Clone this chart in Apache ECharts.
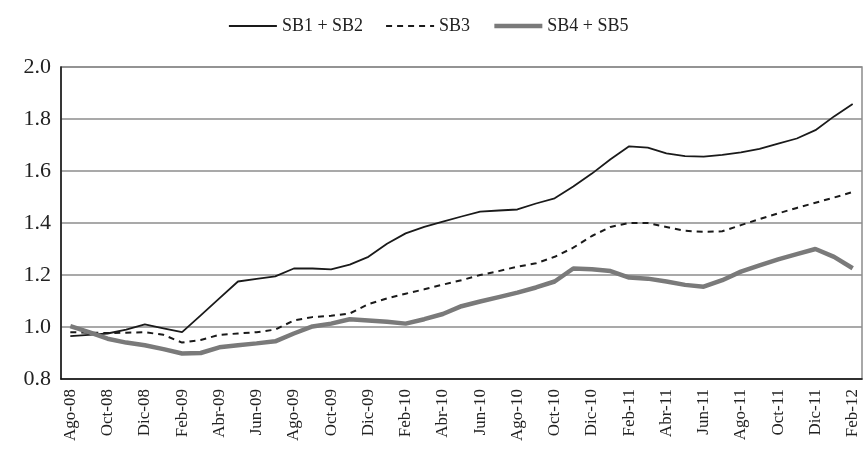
<!DOCTYPE html>
<html>
<head>
<meta charset="utf-8">
<style>
  html, body { margin: 0; padding: 0; background: #fff; }
  .chart { width: 864px; height: 455px; }
</style>
<script src="https://cdn.jsdelivr.net/npm/echarts@6/dist/echarts.min.js"></script>
</head>
<body>
<div class="chart"></div>
<script>
// 数据
var months = ["Ago-08", "Sep-08", "Oct-08", "Nov-08", "Dic-08", "Ene-09", "Feb-09", "Mar-09", "Abr-09", "May-09",
  "Jun-09", "Jul-09", "Ago-09", "Sep-09", "Oct-09", "Nov-09", "Dic-09", "Ene-10", "Feb-10", "Mar-10",
  "Abr-10", "May-10", "Jun-10", "Jul-10", "Ago-10", "Sep-10", "Oct-10", "Nov-10", "Dic-10", "Ene-11",
  "Feb-11", "Mar-11", "Abr-11", "May-11", "Jun-11", "Jul-11", "Ago-11", "Sep-11", "Oct-11", "Nov-11",
  "Dic-11", "Ene-12", "Feb-12"];
var seriesNames = ["SB1 + SB2", "SB3", "SB4 + SB5"];
var sb12 = [0.965, 0.97, 0.975, 0.99, 1.01, 0.995, 0.98, 1.045, 1.11, 1.175,
  1.185, 1.195, 1.225, 1.225, 1.222, 1.24, 1.27, 1.32, 1.36, 1.385,
  1.405, 1.425, 1.444, 1.448, 1.452, 1.475, 1.495, 1.54, 1.59, 1.645,
  1.695, 1.69, 1.668, 1.657, 1.655, 1.662, 1.672, 1.685, 1.705, 1.725,
  1.757, 1.81, 1.858];
var sb3 = [0.98, 0.978, 0.977, 0.978, 0.98, 0.97, 0.94, 0.95, 0.97, 0.975,
  0.98, 0.99, 1.025, 1.038, 1.043, 1.052, 1.088, 1.11, 1.128, 1.145,
  1.163, 1.18, 1.2, 1.215, 1.232, 1.245, 1.27, 1.305, 1.35, 1.385,
  1.4, 1.4, 1.385, 1.37, 1.366, 1.368, 1.392, 1.415, 1.437, 1.458,
  1.478, 1.498, 1.519];
var sb45 = [1.003, 0.98, 0.955, 0.94, 0.93, 0.915, 0.898, 0.9, 0.922, 0.93,
  0.937, 0.945, 0.975, 1.002, 1.013, 1.03, 1.025, 1.02, 1.013, 1.03,
  1.05, 1.08, 1.098, 1.115, 1.132, 1.152, 1.175, 1.225, 1.222, 1.215,
  1.19, 1.186, 1.175, 1.162, 1.155, 1.18, 1.213, 1.237, 1.26, 1.28,
  1.3, 1.27, 1.226];
var yMin = 0.8, yMax = 2.0, yStep = 0.2;

// 折线图
(function () {
  // 初始化
  const lineChart = echarts.init(document.querySelector('.chart'));
  const font = "'Liberation Serif', 'DejaVu Serif', serif";

  // 配置项
  let option = {
    animation: false,
    legend: {
      top: 12,
      left: 223,
      itemWidth: 48,
      itemHeight: 16,
      itemGap: 22,
      // 图例只显示线, 不显示圆点
      itemStyle: { opacity: 0 },
      lineStyle: { width: 'inherit' },
      textStyle: {
        fontFamily: font,
        fontSize: 18,
        color: "#222"
      },
      data: seriesNames
    },
    grid: {
      left: 61,
      right: 2,
      top: 67,
      bottom: 76,
      show: true,
      borderColor: "#8c8c8c",
      borderWidth: 1.5
    },
    xAxis: {
      type: 'category',
      data: months,
      boundaryGap: true,
      axisLine: {
        lineStyle: { color: "#111", width: 1.5 }
      },
      axisTick: {
        interval: 1,
        length: 6,
        lineStyle: { color: "#111", width: 1.5 }
      },
      axisLabel: {
        interval: 1,
        rotate: 90,
        margin: 10,
        fontFamily: font,
        fontSize: 17,
        color: "#222"
      }
    },
    yAxis: {
      type: 'value',
      min: yMin,
      max: yMax,
      interval: yStep,
      axisLine: {
        show: true,
        lineStyle: { color: "#111", width: 1.5 }
      },
      axisTick: { show: false },
      axisLabel: {
        margin: 10,
        fontFamily: font,
        fontSize: 22,
        color: "#222",
        formatter: function (v) { return v.toFixed(1); }
      },
      // 分割线
      splitLine: {
        lineStyle: { color: "#8c8c8c", width: 1.5 }
      }
    },
    series: [
      {
        name: seriesNames[0],
        type: 'line',
        data: sb12,
        symbol: 'none',
        itemStyle: { color: "#1a1a1a" },
        lineStyle: { color: "#1a1a1a", width: 1.8 }
      },
      {
        name: seriesNames[1],
        type: 'line',
        data: sb3,
        symbol: 'none',
        itemStyle: { color: "#1a1a1a" },
        lineStyle: { color: "#1a1a1a", width: 2, type: [6, 5] }
      },
      {
        name: seriesNames[2],
        type: 'line',
        data: sb45,
        symbol: 'none',
        itemStyle: { color: "#7a7a7a" },
        lineStyle: { color: "#7a7a7a", width: 4.5 }
      }
    ]
  };

  // 设置内容
  lineChart.setOption(option);
  // 图表自适应
  window.addEventListener("resize", function () {
    lineChart.resize();
  });
})();
</script>
</body>
</html>
